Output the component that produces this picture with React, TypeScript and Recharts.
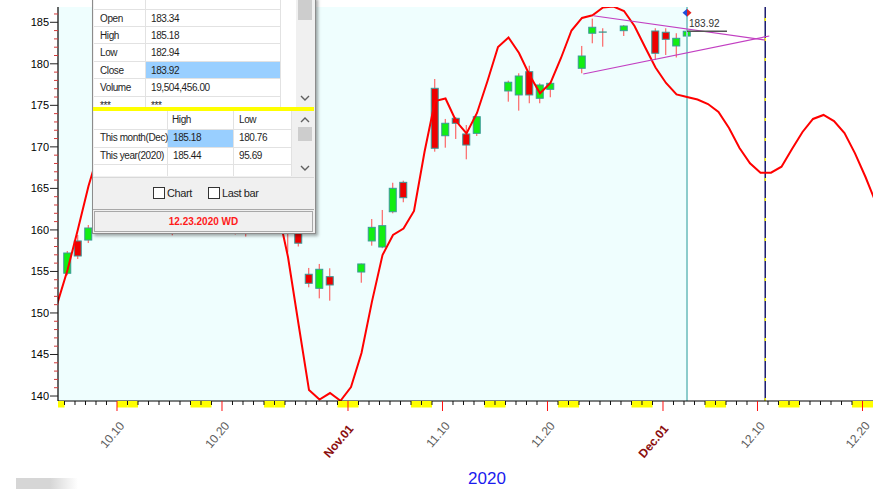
import React from "react"
import {
  Bar,
  ComposedChart,
  Line,
  ReferenceArea,
  ReferenceDot,
  ReferenceLine,
  XAxis,
  YAxis,
} from "recharts"

// x values are calendar days counted from Oct 10 2020 (0 = Oct 10)
const curveFirstDay = -6
const curveValues = [
  151.02, 155.17, 160.11, 165.29, 169.5, 172.5, 174.2, 175.0, 175.0, 174.3,
  173.2, 172.0, 171.0, 170.3, 169.8, 169.4, 169.0, 168.4, 167.6, 166.5,
  165.0, 162.6, 156.74, 148.67, 140.72, 139.58, 140.36, 139.43, 141.08, 145.18,
  151.4, 156.98, 159.39, 160.17, 162.28, 169.38, 175.52, 175.82, 173.11, 171.61,
  174.08, 177.93, 182.03, 183.17, 181.3, 178.65, 176.45, 177.69, 180.7, 184.01,
  185.52, 185.84, 186.78, 186.9, 186.36, 184.55, 182.03, 179.56, 177.69, 176.31,
  176.0, 175.7, 175.16, 174.2, 172.27, 169.86, 168.02, 166.89, 166.89, 167.61,
  169.74, 171.79, 173.36, 173.84, 173.11, 171.67, 169.22, 166.37, 163.24,
]

const candleDays = [
  -5, -4, -3, -2, -1, 2, 3, 4, 5, 6, 9, 10, 11, 12, 13, 16, 17, 18, 19, 20,
  23, 24, 25, 26, 27, 30, 31, 32, 33, 34, 37, 38, 39, 40, 41, 44, 45, 46, 48,
  51, 52, 53, 54,
]
const opens = [
  154.78, 158.67, 158.78, 160.6, 161.8, 164.5, 166.5, 163.5, 159.65, 161.4,
  161.5, 160.5, 159.6, 161.0, 161.8, 162.5, 160.3, 154.66, 152.97, 154.37,
  154.93, 158.67, 157.94, 162.19, 165.73, 177.05, 171.34, 173.44, 171.55, 171.63,
  176.73, 176.25, 179.05, 175.85, 176.93, 179.46, 183.68, 183.78, 183.99,
  183.95, 183.8, 182.15, 183.34,
]
const highs = [
  157.46, 159.39, 160.59, 162.0, 163.5, 167.5, 167.2, 164.5, 162.3, 162.2,
  162.5, 162.0, 162.0, 162.5, 163.0, 163.0, 161.0, 155.42, 155.9, 155.38,
  155.95, 161.31, 162.4, 165.68, 165.93, 178.17, 173.36, 173.6, 172.63, 173.75,
  177.97, 178.86, 179.77, 177.65, 177.8, 182.15, 185.44, 184.28, 184.67,
  184.28, 184.28, 183.68, 185.18,
]
const lows = [
  154.54, 156.5, 158.42, 159.9, 161.0, 164.0, 162.8, 161.2, 159.35, 160.1,
  159.9, 160.0, 159.45, 159.2, 160.5, 157.3, 158.0, 153.09, 151.76, 151.48,
  153.64, 158.1, 157.8, 162.0, 163.33, 169.42, 169.9, 170.95, 168.5, 171.31,
  175.44, 174.36, 175.25, 175.25, 175.97, 178.86, 182.47, 182.06, 183.35,
  180.46, 181.06, 180.76, 182.94,
]
const closes = [
  157.22, 156.86, 160.23, 161.6, 163.2, 167.0, 163.5, 162.0, 161.2, 160.6,
  160.2, 161.5, 161.2, 161.8, 162.5, 160.0, 158.4, 153.57, 155.26, 153.37,
  155.9, 160.31, 160.51, 165.01, 163.88, 169.83, 172.84, 172.84, 170.22, 173.63,
  177.78, 178.53, 176.25, 177.45, 177.65, 180.94, 184.4, 183.82, 184.55,
  181.27, 182.95, 183.07, 183.92,
]

// triangle drawn on the last weeks
const triangleUpper = [
  { d: 45.08, v: 185.79 },
  { d: 61.43, v: 182.87 },
]
const triangleLower = [
  { d: 44.12, v: 178.77 },
  { d: 61.84, v: 183.35 },
]

const cursorDay = 54
const forecastDay = 61.45
const markerPrice = 186.16

const labelDays = [0, 10, 22, 31, 41, 52, 61, 71]
const labelTexts = ["10.10", "10.20", "Nov.01", "11.10", "11.20", "Dec.01", "12.10", "12.20"]
const monthStarts = [22, 52]

const priceTicks = Array.from({ length: 47 }, (_, i) => 140 + i)

const PLOT_LEFT = 58
const PLOT_RIGHT = 873
const X_MIN = -5.905
const X_MAX = 71.714
const PX_PER_DAY = (PLOT_RIGHT - PLOT_LEFT) / (X_MAX - X_MIN)
const TICK_SHIFT = 0.286
const FONT = '"Liberation Sans", Arial, sans-serif'

const dayTicks = Array.from({ length: 77 }, (_, i) => i - 5 - TICK_SHIFT)

const rows = curveValues.map((v, i) => {
  const d = curveFirstDay + i
  const k = candleDays.indexOf(d)
  return {
    d,
    curve: v,
    range: k >= 0 ? [lows[k], highs[k]] : null,
    o: k >= 0 ? opens[k] : null,
    h: k >= 0 ? highs[k] : null,
    l: k >= 0 ? lows[k] : null,
    c: k >= 0 ? closes[k] : null,
  }
})

const weekday = (t: number) => ((t % 7) + 7) % 7 // 0 = Sat, 1 = Sun

function Candle(props: any) {
  const { x, y, width, height, payload } = props
  if (!payload || payload.o == null) return null
  const { o, h, l, c } = payload
  const span = h - l || 1
  const py = (v: number) => y + ((h - v) / span) * height
  const cx = x + width / 2
  const top = py(Math.max(o, c))
  const bottom = py(Math.min(o, c))
  const up = c >= o
  return (
    <g>
      <line x1={cx} x2={cx} y1={y} y2={y + height} stroke="#ff4a4a" strokeWidth={1} />
      {Math.abs(o - c) < 0.1 ? (
        <line x1={x} x2={x + width} y1={py(c)} y2={py(c)} stroke="#2f8f86" strokeWidth={1.2} />
      ) : (
        <rect
          x={x + 0.5}
          y={top}
          width={width - 1}
          height={Math.max(bottom - top, 1)}
          fill={up ? "#12ee12" : "#ee0000"}
          stroke="#3a9999"
          strokeWidth={1}
        />
      )}
    </g>
  )
}

function DayTick(props: any) {
  const { x, y, payload, index } = props
  const t = Math.round(payload.value + TICK_SHIFT)
  const li = labelDays.indexOf(t)
  const parts: React.ReactNode[] = []
  const wd = weekday(t)
  if (wd === 0 || wd === 1) {
    const w = Math.min(x + PX_PER_DAY, PLOT_RIGHT) - x
    parts.push(<rect key="we" x={x} y={y} width={w} height={6.5} fill="#ffff00" />)
  }
  if (index === 0) {
    const pw = weekday(t - 1)
    if (pw === 0 || pw === 1) {
      const left = Math.max(x - PX_PER_DAY, PLOT_LEFT)
      parts.push(<rect key="wp" x={left} y={y} width={x - left} height={6.5} fill="#ffff00" />)
    }
  }
  if (li >= 0) {
    const month = monthStarts.includes(t)
    const ax = x + (month ? 6 : 8)
    const ay = y + (month ? 28 : 25)
    parts.push(<line key="mj" x1={x} x2={x} y1={y} y2={y + 10} stroke="#ff1010" strokeWidth={1} />)
    parts.push(
      <text
        key="lb"
        x={ax}
        y={ay}
        textAnchor="end"
        transform={`rotate(-50, ${ax}, ${ay})`}
        fontFamily={FONT}
        fontSize={12}
        fontWeight={month ? 700 : 400}
        fill={month ? "#8b0f0f" : "#5c5c5c"}
      >
        {labelTexts[li]}
      </text>
    )
  } else {
    parts.push(<line key="mn" x1={x} x2={x} y1={y} y2={y + 4} stroke="#111" strokeWidth={1} />)
  }
  return <g>{parts}</g>
}

function PriceTick(props: any) {
  const { x, y, payload } = props
  const v = payload.value
  const major = v % 5 === 0
  return (
    <g>
      <line x1={x - (major ? 8 : 4)} x2={x} y1={y} y2={y} stroke={major ? "#222" : "#d03a3a"} strokeWidth={1} />
      {major && (
        <text x={x - 9} y={y} dy={4} textAnchor="end" fontFamily={FONT} fontSize={11} fill="#000">
          {v}
        </text>
      )}
    </g>
  )
}

function CursorMark(props: any) {
  const { cx, cy } = props
  return (
    <g>
      <polygon points={`${cx - 4.5},${cy} ${cx},${cy - 4} ${cx},${cy + 4}`} fill="#1f4fd8" />
      <polygon points={`${cx},${cy - 4} ${cx + 4.5},${cy} ${cx},${cy + 4}`} fill="#e02424" />
    </g>
  )
}

function LastPrice(props: any) {
  const { cx, cy } = props
  return (
    <g>
      <line x1={cx} x2={cx + 40} y1={cy} y2={cy} stroke="#555" strokeWidth={1.5} />
      <text x={cx + 2} y={cy - 4} fontFamily={FONT} fontSize={10} fill="#333">
        {closes[closes.length - 1].toFixed(2)}
      </text>
    </g>
  )
}

const abs = (left: number, top: number, width: number, height: number, extra: React.CSSProperties = {}): React.CSSProperties => ({
  position: "absolute",
  left,
  top,
  width,
  height,
  boxSizing: "border-box",
  ...extra,
})

function Txt({ x, cy, children, style = {} }: { x: number; cy: number; children: React.ReactNode; style?: React.CSSProperties }) {
  return (
    <div style={{ position: "absolute", left: x, top: cy - 7, height: 14, lineHeight: "14px", whiteSpace: "nowrap", ...style }}>
      {children}
    </div>
  )
}

const dataRows = [
  ["Open", "183.34"],
  ["High", "185.18"],
  ["Low", "182.94"],
  ["Close", "183.92"],
  ["Volume", "19,504,456.00"],
  ["***", "***"],
]

function DataWindow() {
  const rowH = 17.4
  const first = 8.6
  return (
    <div style={{ position: "absolute", left: 0, top: 0, fontFamily: FONT, fontSize: 10, letterSpacing: -0.4, color: "#1e1e1e" }}>
      <div style={abs(92, -3, 224, 237, { background: "#f0f0f0", border: "1px solid #8c8c8c", boxShadow: "2px 2px 3px rgba(0,0,0,0.35)" })} />
      {/* OHLC table */}
      <div style={abs(94, 0, 202, 106.5, { background: "#fff", overflow: "hidden" })}>
        {dataRows.map((r, i) => (
          <div key={r[0]} style={abs(0, first + rowH * i, 186, rowH, { borderTop: "1px solid #e2e2e2" })}>
            {r[0] === "Close" && <div style={abs(52, 0.5, 134, rowH - 1, { background: "#99cfff" })} />}
            <div style={{ position: "absolute", left: 6, top: 0, lineHeight: `${rowH}px` }}>{r[0]}</div>
            <div style={{ position: "absolute", left: 57, top: 0, lineHeight: `${rowH}px` }}>{r[1]}</div>
          </div>
        ))}
        <div style={abs(51, 0, 1, 110, { background: "#e2e2e2" })} />
        <div style={abs(186, 0, 1, 110, { background: "#e2e2e2" })} />
      </div>
      <div style={abs(296, 0, 17, 106.5, { background: "#f0f0f0" })} />
      <div style={abs(298, 0, 14, 20, { background: "#cdcdcd" })} />
      <div style={abs(93, 107, 221, 3.5, { background: "#ffff00" })} />
      {/* month / year table */}
      <div style={abs(94, 111, 198, 65, { background: "#fff" })}>
        <div style={abs(0, 18, 198, 1, { background: "#e2e2e2" })} />
        <div style={abs(0, 35.5, 198, 1, { background: "#e2e2e2" })} />
        <div style={abs(0, 53, 198, 1, { background: "#e2e2e2" })} />
        <div style={abs(72.5, 0, 1, 65, { background: "#e2e2e2" })} />
        <div style={abs(139, 0, 1, 65, { background: "#e2e2e2" })} />
        <div style={abs(197, 0, 1, 65, { background: "#e2e2e2" })} />
        <div style={abs(73.5, 18.5, 65.5, 17, { background: "#99cfff" })} />
      </div>
      <Txt x={172} cy={120}>High</Txt>
      <Txt x={239} cy={120}>Low</Txt>
      <Txt x={100} cy={138}>This month(Dec)</Txt>
      <Txt x={173} cy={138}>185.18</Txt>
      <Txt x={239} cy={138}>180.76</Txt>
      <Txt x={100} cy={155.5}>This year(2020)</Txt>
      <Txt x={173} cy={155.5}>185.44</Txt>
      <Txt x={239} cy={155.5}>95.69</Txt>
      <div style={abs(292, 111, 21, 65, { background: "#f0f0f0" })} />
      <div style={abs(298, 127, 14, 14, { background: "#cdcdcd" })} />
      <svg style={abs(290, 90, 25, 90)} width={25} height={90}>
        <polyline points="11,6 15,10 19,6" fill="none" stroke="#606060" strokeWidth={1.4} />
        <polyline points="11,32 15,28 19,32" fill="none" stroke="#606060" strokeWidth={1.4} />
        <polyline points="11,76 15,80 19,76" fill="none" stroke="#606060" strokeWidth={1.4} />
      </svg>
      {/* options */}
      <div style={abs(93, 176.5, 221, 1, { background: "#d8d8d8" })} />
      <div style={abs(93, 208.5, 221, 1.5, { background: "#a8a8a8" })} />
      <div style={abs(153, 187, 12, 12, { background: "#fff", border: "1px solid #333" })} />
      <Txt x={167} cy={193} style={{ fontSize: 11 }}>Chart</Txt>
      <div style={abs(208, 187, 12, 12, { background: "#fff", border: "1px solid #333" })} />
      <Txt x={222} cy={193} style={{ fontSize: 11 }}>Last bar</Txt>
      <div style={abs(94, 211, 219, 21, { border: "1px solid #a8a8a8", textAlign: "center", lineHeight: "19px", color: "#ff1a1a", fontWeight: 700, fontSize: 10, letterSpacing: 0 })}>
        12.23.2020 WD
      </div>
    </div>
  )
}

export default function App() {
  return (
    <div style={{ position: "fixed", left: 0, top: 0, width: 885, height: 498, background: "#fff", overflow: "hidden" }}>
      <ComposedChart width={885} height={498} data={rows} margin={{ top: 7, right: 12, bottom: 37, left: 0 }}>
        <ReferenceArea x1={X_MIN} x2={cursorDay} fill="#effefe" fillOpacity={1} stroke="none" ifOverflow="hidden" />
        <XAxis
          dataKey="d"
          type="number"
          domain={[X_MIN, X_MAX]}
          allowDataOverflow
          ticks={dayTicks}
          interval={0}
          tick={<DayTick />}
          tickLine={false}
          tickSize={0}
          tickMargin={0}
          height={60}
          axisLine={{ stroke: "#000", strokeWidth: 1.2 }}
        />
        <YAxis
          type="number"
          domain={[139.4, 186.84]}
          allowDataOverflow
          ticks={priceTicks}
          interval={0}
          tick={<PriceTick />}
          tickLine={false}
          tickSize={0}
          tickMargin={0}
          width={58}
          axisLine={{ stroke: "#000", strokeWidth: 1.2 }}
        />
        <ReferenceLine x={cursorDay} stroke="#8ccccc" strokeWidth={2} ifOverflow="hidden" />
        <ReferenceLine x={forecastDay} stroke="#1a1a6e" strokeWidth={1.5} ifOverflow="hidden" />
        <ReferenceLine x={forecastDay} stroke="#ffff00" strokeWidth={1.5} strokeDasharray="3 17" ifOverflow="hidden" />
        <Bar dataKey="range" barSize={8} shape={<Candle />} isAnimationActive={false} />
        <Line dataKey="curve" type="linear" stroke="#ff0000" strokeWidth={2} dot={false} isAnimationActive={false} />
        <ReferenceLine
          segment={[{ x: triangleUpper[0].d, y: triangleUpper[0].v }, { x: triangleUpper[1].d, y: triangleUpper[1].v }]}
          stroke="#c23fc2"
          strokeWidth={1.2}
          ifOverflow="visible"
        />
        <ReferenceLine
          segment={[{ x: triangleLower[0].d, y: triangleLower[0].v }, { x: triangleLower[1].d, y: triangleLower[1].v }]}
          stroke="#c23fc2"
          strokeWidth={1.2}
          ifOverflow="visible"
        />
        <ReferenceDot x={cursorDay} y={closes[closes.length - 1]} r={0} shape={<LastPrice />} ifOverflow="visible" />
        <ReferenceDot x={cursorDay} y={markerPrice} r={4} shape={<CursorMark />} ifOverflow="visible" />
      </ComposedChart>
      <DataWindow />
      <div style={abs(455, 468, 64, 22, { textAlign: "center", fontFamily: FONT, fontSize: 17, color: "#1a1aee", lineHeight: "22px" })}>
        {2020}
      </div>
      <div style={abs(16, 478, 62, 11, { background: "linear-gradient(to right, #d6d6d6 55%, rgba(255,255,255,0))" })} />
    </div>
  )
}
